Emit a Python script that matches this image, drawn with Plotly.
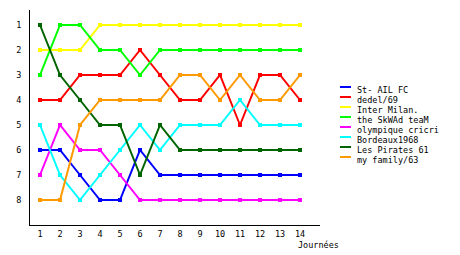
import plotly.graph_objects as go

journees = list(range(1, 15))
names = ["St- AIL FC", "dedel/69", "Inter Milan.", "the SkWAd teaM",
         "olympique cricri", "Bordeaux1968", "Les Pirates 61", "my family/63"]
colors = ["#0000FF", "#FF0000", "#FFFF00", "#00FF00",
          "#FF00FF", "#00FFFF", "#006400", "#FF9900"]

st_ail_fc = [6, 6, 7, 8, 8, 6, 7, 7, 7, 7, 7, 7, 7, 7]
dedel_69 = [4, 4, 3, 3, 3, 2, 3, 4, 4, 3, 5, 3, 3, 4]
inter_milan = [2, 2, 2, 1, 1, 1, 1, 1, 1, 1, 1, 1, 1, 1]
skwad_team = [3, 1, 1, 2, 2, 3, 2, 2, 2, 2, 2, 2, 2, 2]
olympique_cricri = [7, 5, 6, 6, 7, 8, 8, 8, 8, 8, 8, 8, 8, 8]
bordeaux1968 = [5, 7, 8, 7, 6, 5, 6, 5, 5, 5, 4, 5, 5, 5]
les_pirates_61 = [1, 3, 4, 5, 5, 7, 5, 6, 6, 6, 6, 6, 6, 6]
my_family_63 = [8, 8, 5, 4, 4, 4, 4, 3, 3, 4, 3, 4, 4, 3]

series = [st_ail_fc, dedel_69, inter_milan, skwad_team,
          olympique_cricri, bordeaux1968, les_pirates_61, my_family_63]

FONT = "DejaVu Sans Mono"
W, H = 460, 255
ML, MR, MT, MB = 30, 140, 10, 30
pw = W - ML - MR
ph = H - MT - MB

fig = go.Figure()
for name, col, vals in zip(names, colors, series):
    fig.add_trace(go.Scatter(
        x=journees, y=vals, name=name, mode="lines+markers",
        line=dict(color=col, width=2),
        marker=dict(symbol="square", size=4, color=col),
        showlegend=False,
    ))

def px_x(p):
    return (p - ML) / pw

def px_y(p):
    return (H - MB - p) / ph

shapes = []
annotations = []
for i, (name, col) in enumerate(zip(names, colors)):
    yl = 87 + 10 * i
    shapes.append(dict(type="line", xref="paper", yref="paper",
                       x0=px_x(340), x1=px_x(351), y0=px_y(yl), y1=px_y(yl),
                       line=dict(color=col, width=2)))
    annotations.append(dict(xref="paper", yref="paper", x=px_x(355), y=px_y(90 + 10 * i),
                            xanchor="left", yanchor="middle", showarrow=False,
                            text=name, font=dict(family=FONT, size=8.5, color="black")))

annotations.append(dict(xref="paper", yref="paper", x=px_x(318), y=px_y(245),
                        xanchor="center", yanchor="middle", showarrow=False,
                        text="Journées", font=dict(family=FONT, size=8.5, color="black")))

fig.update_layout(
    width=W, height=H,
    margin=dict(l=ML, r=MR, t=MT, b=MB),
    paper_bgcolor="white", plot_bgcolor="white",
    font=dict(family=FONT, size=8.5, color="black"),
    shapes=shapes, annotations=annotations,
    xaxis=dict(range=[0.5, 15], tickvals=journees, ticks="", showgrid=False,
               zeroline=False, showline=True, linecolor="black", linewidth=1,
               ticklabelstandoff=1, fixedrange=True),
    yaxis=dict(range=[9, 0.4], tickvals=list(range(1, 9)), ticks="", showgrid=False,
               zeroline=False, showline=True, linecolor="black", linewidth=1,
               ticklabelstandoff=6, fixedrange=True),
)

fig.write_html("out.html")
